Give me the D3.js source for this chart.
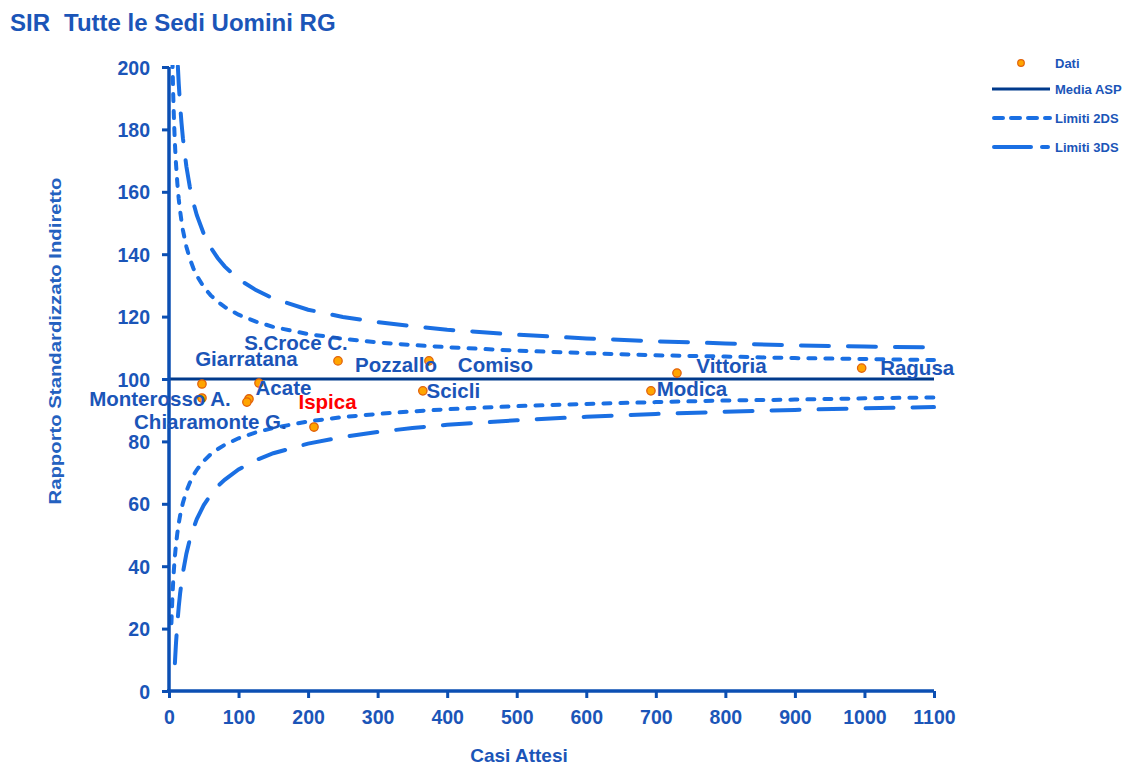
<!DOCTYPE html>
<html>
<head>
<meta charset="utf-8">
<script src="https://cdn.jsdelivr.net/npm/d3@7"></script>
<style>
  html, body { margin: 0; padding: 0; background: #fff; }
  svg { display: block; font-family: "Liberation Sans", Arial, sans-serif; }
</style>
</head>
<body>
<svg id="chart" width="1125" height="765"></svg>
<script>
// ---- data ----
const comuni = ["Giarratana", "Monterosso A.", "Acate", "S.Croce C.", "Chiaramonte G.", "Ispica",
                "Pozzallo", "Comiso", "Scicli", "Vittoria", "Modica", "Ragusa"];
const casiAttesi = [47.4, 47.4, 129.4, 115, 112, 208.5, 243, 373.8, 365, 730.4, 693, 996];
const sir = [98.4, 93.9, 98.7, 93.6, 92.6, 84.6, 105.8, 105.8, 96.2, 101.9, 96.2, 103.5];
const highlighted = [false, false, false, false, false, true, false, false, false, false, false, false];

const mediaASP = 100;

const limitE = [3.5, 4, 5, 6, 7, 8, 8.5, 9, 10, 12, 14, 16, 18, 20, 25, 30, 35, 40, 50, 60, 70, 80,
                100, 125, 150, 200, 250, 300, 350, 400, 500, 600, 700, 800, 900, 1000, 1100];
const upper2DS = [224, 215, 201.4, 191.6, 184.2, 178.2, 175.7, 173.3, 169.2, 162.7, 157.7, 153.8, 150.5, 147.7,
                  142.4, 138.5, 135.5, 133.1, 129.5, 126.8, 124.8, 123.1, 120.6, 118.4, 116.7, 114.4, 112.9,
                  111.7, 110.9, 110.2, 109.1, 108.3, 107.6, 107.2, 106.7, 106.4, 106.1];
const lower2DS = [21.7, 25.0, 30.6, 35.0, 38.7, 41.8, 43.2, 44.4, 46.8, 50.6, 53.7, 56.3, 58.4, 60.3,
                  64.0, 66.8, 69.1, 70.9, 73.7, 75.9, 77.5, 78.9, 81.0, 82.9, 84.3, 86.4, 87.8,
                  88.8, 89.6, 90.3, 91.3, 92.0, 92.6, 93.1, 93.4, 93.8, 94.1];
const upper3DS = [null, null, null, null, null, null, null, null, 215.2, 203.5, 194.7, 187.7, 182.0, 177.2,
                  168.1, 161.5, 156.5, 152.5, 146.5, 142.1, 138.8, 136.1, 132.0, 128.5, 125.8, 122.2, 119.9,
                  118.2, 116.9, 115.8, 114.2, 113.0, 112.1, 111.4, 110.8, 110.4, 110.1];
const lower3DS = [null, null, null, null, null, null, 8.9, 11.1, 15.1, 21.7, 27.0, 31.3, 34.8, 37.9,
                  44.0, 48.6, 52.1, 55.1, 59.6, 62.9, 65.6, 67.7, 71.0, 74.0, 76.2, 79.3, 81.4,
                  83.0, 84.3, 85.3, 86.8, 87.9, 88.8, 89.5, 90.1, 90.6, 91.0];

const xTicks = [0, 100, 200, 300, 400, 500, 600, 700, 800, 900, 1000, 1100];
const yTicks = [0, 20, 40, 60, 80, 100, 120, 140, 160, 180, 200];

const titleParts = ["SIR", "Tutte le Sedi Uomini RG"];
const xTitle = "Casi Attesi";
const yTitle = "Rapporto Standardizzato Indiretto";
const legendLabels = ["Dati", "Media ASP", "Limiti 2DS", "Limiti 3DS"];

// label placement (pixel offsets from each point, label centred)
const labelDx = [44.5, -42, 24.5, 47, -36.5, 13.5, 58, 66.5, 30.5, 54.5, 41, 55.5];
const labelDy = [-18, 8, 12, -49, 27, -18, 11, 11, 7, 0, 5, 7];

// ---- styles ----
const TEXT = "#1b55b8";
const AXIS = "#0b4fb3";
const MEDIA = "#003a8c";
const LIMIT = "#1a6fe3";
const RED = "#ff0000";

const svg = d3.select("#chart");
const pL = 169, pR = 934, pT = 67, pB = 691;

const x = d3.scaleLinear().domain([0, 1100]).range([pL, pR]);
const y = d3.scaleLinear().domain([0, 200]).range([pB, pT]);

// title
svg.append("text").attr("x", 10).attr("y", 31).attr("fill", TEXT)
  .attr("font-size", 24).attr("font-weight", "bold").text(titleParts[0]);
svg.append("text").attr("x", 64).attr("y", 31).attr("fill", TEXT)
  .attr("font-size", 24).attr("font-weight", "bold").text(titleParts[1]);

// clip
svg.append("defs").append("clipPath").attr("id", "plotclip")
  .append("rect").attr("x", pL).attr("y", pT - 2).attr("width", pR - pL + 2).attr("height", pB - pT + 2);

const plot = svg.append("g").attr("clip-path", "url(#plotclip)");

const lineGen = (arr) => d3.line()
  .defined((d, i) => arr[i] !== null)
  .x((d, i) => x(limitE[i]))
  .y((d, i) => y(arr[i]))(limitE);

// limits
const dash2 = "7,10";
const dash3 = "28,19";
[[upper3DS, dash3], [lower3DS, dash3], [upper2DS, dash2], [lower2DS, dash2]].forEach(([arr, dash]) => {
  plot.append("path").attr("d", lineGen(arr)).attr("fill", "none")
    .attr("stroke", LIMIT).attr("stroke-width", 4).attr("stroke-linecap", "round")
    .attr("stroke-dasharray", dash);
});

// media line
svg.append("line").attr("x1", x(0)).attr("x2", x(1100)).attr("y1", y(mediaASP)).attr("y2", y(mediaASP))
  .attr("stroke", MEDIA).attr("stroke-width", 3);

// axes
const xAxis = d3.axisBottom(x).tickValues(xTicks).tickSize(7).tickFormat(d3.format("d"));
const yAxis = d3.axisLeft(y).tickValues(yTicks).tickSize(7).tickFormat(d3.format("d"));

const gx = svg.append("g").attr("transform", `translate(0,${pB})`).call(xAxis);
const gy = svg.append("g").attr("transform", `translate(${pL},0)`).call(yAxis);

[gx, gy].forEach(g => {
  g.select(".domain").attr("stroke", AXIS).attr("stroke-width", 3.5);
  g.selectAll(".tick line").attr("stroke", AXIS).attr("stroke-width", 3);
  g.selectAll(".tick text").attr("fill", TEXT).attr("font-size", 19.5).attr("font-weight", "bold")
    .attr("font-family", "'Liberation Sans', Arial, sans-serif");
});
gx.select(".domain").attr("d", `M${pL - 2},0H${pR}`);
gy.select(".domain").attr("d", `M0,${pT}V${pB}`);
gx.selectAll(".tick text").attr("dy", "23px");
gy.selectAll(".tick text").attr("dx", "-9px").attr("dy", "0.36em");

// axis titles
svg.append("text").attr("x", 519).attr("y", 762).attr("text-anchor", "middle")
  .attr("fill", TEXT).attr("font-size", 19).attr("font-weight", "bold").text(xTitle);
svg.append("text").attr("transform", "translate(61,341) rotate(-90)").attr("text-anchor", "middle")
  .attr("fill", "#2461c0").attr("font-size", 17).attr("font-weight", "bold")
  .attr("textLength", 327).attr("lengthAdjust", "spacingAndGlyphs").text(yTitle);

// points
const pts = comuni.map((c, i) => ({ name: c, e: casiAttesi[i], v: sir[i], hi: highlighted[i], dx: labelDx[i], dy: labelDy[i] }));

svg.append("g").selectAll("circle").data(pts).enter().append("circle")
  .attr("cx", d => x(d.e)).attr("cy", d => y(d.v)).attr("r", 4.2)
  .attr("fill", "#ffa500").attr("stroke", "#e2620a").attr("stroke-width", 1.3);

svg.append("g").selectAll("text").data(pts).enter().append("text")
  .attr("x", d => x(d.e) + d.dx).attr("y", d => y(d.v) + d.dy)
  .attr("text-anchor", "middle").attr("font-size", 20.5).attr("font-weight", "bold")
  .attr("fill", d => d.hi ? RED : TEXT).text(d => d.name);

// legend
const lg = svg.append("g");
const lx1 = 992, lx2 = 1050, ltx = 1055;
const ly = [63, 89, 118, 147];
lg.append("circle").attr("cx", 1021).attr("cy", ly[0]).attr("r", 3.3)
  .attr("fill", "#ffa500").attr("stroke", "#e2620a").attr("stroke-width", 1.2);
lg.append("line").attr("x1", lx1).attr("x2", lx2).attr("y1", ly[1]).attr("y2", ly[1])
  .attr("stroke", MEDIA).attr("stroke-width", 3);
lg.append("line").attr("x1", lx1 + 2).attr("x2", lx2).attr("y1", ly[2]).attr("y2", ly[2])
  .attr("stroke", LIMIT).attr("stroke-width", 4).attr("stroke-linecap", "round").attr("stroke-dasharray", "9,8");
lg.append("line").attr("x1", lx1 + 2).attr("x2", lx2 - 2).attr("y1", ly[3]).attr("y2", ly[3])
  .attr("stroke", LIMIT).attr("stroke-width", 4).attr("stroke-linecap", "round").attr("stroke-dasharray", "37,11");
legendLabels.forEach((t, i) => {
  lg.append("text").attr("x", ltx).attr("y", ly[i]).attr("dominant-baseline", "central")
    .attr("fill", TEXT).attr("font-size", 13).attr("font-weight", "bold").text(t);
});
</script>
</body>
</html>
